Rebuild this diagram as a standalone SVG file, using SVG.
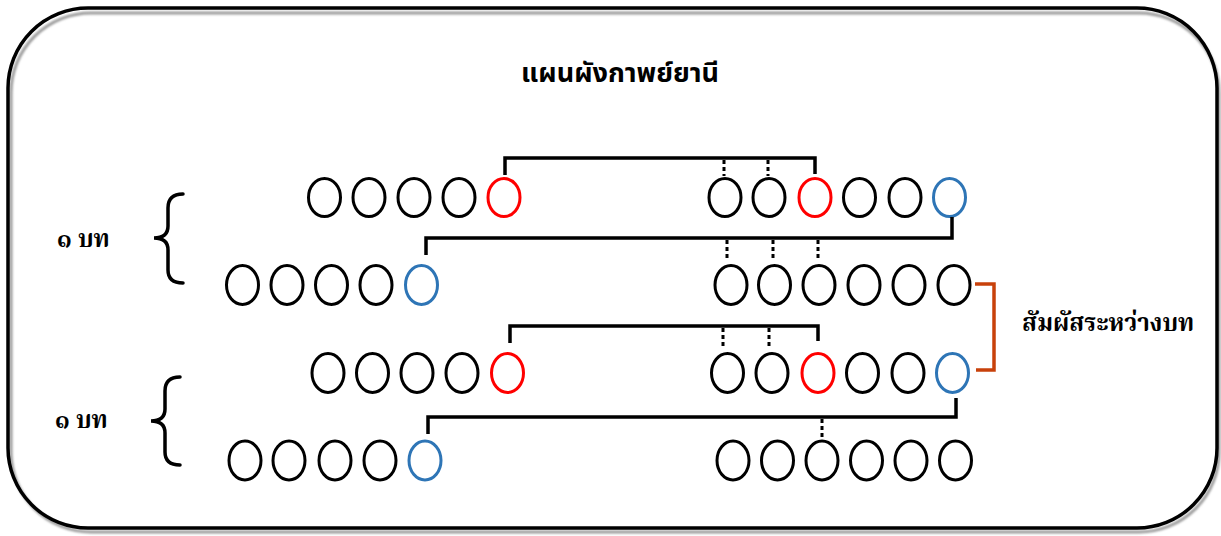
<svg xmlns="http://www.w3.org/2000/svg" width="1221" height="536" viewBox="0 0 1221 536">
<defs>
<filter id="blur" x="-5%" y="-5%" width="110%" height="110%"><feGaussianBlur stdDeviation="1.2"/></filter>
</defs>
<style>
.b{fill:none;stroke:#000;stroke-width:3}
.r{fill:none;stroke:#FF0000;stroke-width:3}
.u{fill:none;stroke:#2E75B6;stroke-width:3}
.ln{fill:none;stroke:#000;stroke-width:3.5}
.dt{fill:none;stroke:#000;stroke-width:3;stroke-dasharray:4 3}
.or{fill:none;stroke:#C8410B;stroke-width:3.5}
.brace{fill:none;stroke:#000;stroke-width:3.5;stroke-linecap:round}
.title{font-family:"Noto Sans","Noto Sans Thai",Tahoma,sans-serif;font-size:27px;font-weight:bold;fill:#000}
.lbl{font-family:"Noto Serif Thai","Noto Serif","Liberation Serif","Noto Sans Thai",serif;font-size:24px;font-weight:bold;fill:#000}
</style>
<g id="frame">
<rect x="11" y="13" width="1208" height="519" rx="80" ry="80" fill="none" stroke="#9a9a9a" stroke-width="3" filter="url(#blur)"/>
<rect x="8" y="8" width="1209" height="520" rx="80" ry="80" fill="none" stroke="#000" stroke-width="3.5"/>
</g>
<g id="title"><text class="title" x="620" y="82" text-anchor="middle">แผนผังกาพย์ยานี</text></g>
<g id="label-stanza1"><text class="lbl" x="57" y="247">๑ บท</text></g>
<g id="label-stanza2"><text class="lbl" x="55" y="428">๑ บท</text></g>
<g id="label-between"><text class="lbl" x="1022" y="331">สัมผัสระหว่างบท</text></g>
<g id="brace1"><path class="brace" d="M183,194 Q168,194 168,208 L168,226 Q168,238 154,238 Q168,238 168,250 L168,270 Q168,283 183,283"/></g>
<g id="brace2"><path class="brace" d="M180,377 Q165,377 165,391 L165,409 Q165,421 151,421 Q165,421 165,433 L165,452 Q165,465 180,465"/></g>
<g id="row1">
<ellipse class="b" cx="324.5" cy="197.5" rx="16" ry="19"/>
<ellipse class="b" cx="369" cy="197.5" rx="16" ry="19"/>
<ellipse class="b" cx="414" cy="197.5" rx="16" ry="19"/>
<ellipse class="b" cx="459" cy="197.5" rx="16" ry="19"/>
<ellipse class="r" cx="504" cy="197.5" rx="16" ry="19"/>
<ellipse class="b" cx="725" cy="197.5" rx="16" ry="19"/>
<ellipse class="b" cx="769" cy="197.5" rx="16" ry="19"/>
<ellipse class="r" cx="815" cy="197.5" rx="16" ry="19"/>
<ellipse class="b" cx="859.5" cy="197.5" rx="16" ry="19"/>
<ellipse class="b" cx="905" cy="197.5" rx="16" ry="19"/>
<ellipse class="u" cx="949.5" cy="197.5" rx="16" ry="19"/>
</g>
<g id="row2">
<ellipse class="b" cx="242.5" cy="285" rx="16" ry="19.5"/>
<ellipse class="b" cx="287" cy="285" rx="16" ry="19.5"/>
<ellipse class="b" cx="331.5" cy="285" rx="16" ry="19.5"/>
<ellipse class="b" cx="376" cy="285" rx="16" ry="19.5"/>
<ellipse class="u" cx="421.5" cy="285" rx="16" ry="19.5"/>
<ellipse class="b" cx="731" cy="285" rx="16" ry="19.5"/>
<ellipse class="b" cx="774.5" cy="285" rx="16" ry="19.5"/>
<ellipse class="b" cx="819" cy="285" rx="16" ry="19.5"/>
<ellipse class="b" cx="864" cy="285" rx="16" ry="19.5"/>
<ellipse class="b" cx="909" cy="285" rx="16" ry="19.5"/>
<ellipse class="b" cx="954" cy="285" rx="16" ry="19.5"/>
</g>
<g id="row3">
<ellipse class="b" cx="328" cy="373" rx="16" ry="19.5"/>
<ellipse class="b" cx="372.5" cy="373" rx="16" ry="19.5"/>
<ellipse class="b" cx="417" cy="373" rx="16" ry="19.5"/>
<ellipse class="b" cx="462" cy="373" rx="16" ry="19.5"/>
<ellipse class="r" cx="507.5" cy="373" rx="16" ry="19.5"/>
<ellipse class="b" cx="727.5" cy="373" rx="16" ry="19.5"/>
<ellipse class="b" cx="772" cy="373" rx="16" ry="19.5"/>
<ellipse class="r" cx="818" cy="373" rx="16" ry="19.5"/>
<ellipse class="b" cx="862.5" cy="373" rx="16" ry="19.5"/>
<ellipse class="b" cx="908" cy="373" rx="16" ry="19.5"/>
<ellipse class="u" cx="952.5" cy="373" rx="16" ry="19.5"/>
</g>
<g id="row4">
<ellipse class="b" cx="245" cy="460.5" rx="16" ry="19.5"/>
<ellipse class="b" cx="289" cy="460.5" rx="16" ry="19.5"/>
<ellipse class="b" cx="335" cy="460.5" rx="16" ry="19.5"/>
<ellipse class="b" cx="380" cy="460.5" rx="16" ry="19.5"/>
<ellipse class="u" cx="425" cy="460.5" rx="16" ry="19.5"/>
<ellipse class="b" cx="733" cy="460.5" rx="16" ry="19.5"/>
<ellipse class="b" cx="777.5" cy="460.5" rx="16" ry="19.5"/>
<ellipse class="b" cx="822" cy="460.5" rx="16" ry="19.5"/>
<ellipse class="b" cx="866.5" cy="460.5" rx="16" ry="19.5"/>
<ellipse class="b" cx="911" cy="460.5" rx="16" ry="19.5"/>
<ellipse class="b" cx="955.5" cy="460.5" rx="16" ry="19.5"/>
</g>
<g id="connectors">
<path class="ln" d="M505,175 V158 H815 V174"/>
<path class="dt" d="M724,160 V176"/>
<path class="dt" d="M768,160 V176"/>
<path class="ln" d="M426,255 V238 H952 V217"/>
<path class="dt" d="M727,240 V258"/>
<path class="dt" d="M773,240 V258"/>
<path class="dt" d="M818,240 V258"/>
<path class="ln" d="M510,343 V326 H818 V341"/>
<path class="dt" d="M723,328 V346"/>
<path class="dt" d="M769,328 V346"/>
<path class="ln" d="M428,434 V417 H956 V398"/>
<path class="dt" d="M822,419 V437"/>
<path class="or" d="M975,284 H994 V370 H976"/>
</g>
</svg>
